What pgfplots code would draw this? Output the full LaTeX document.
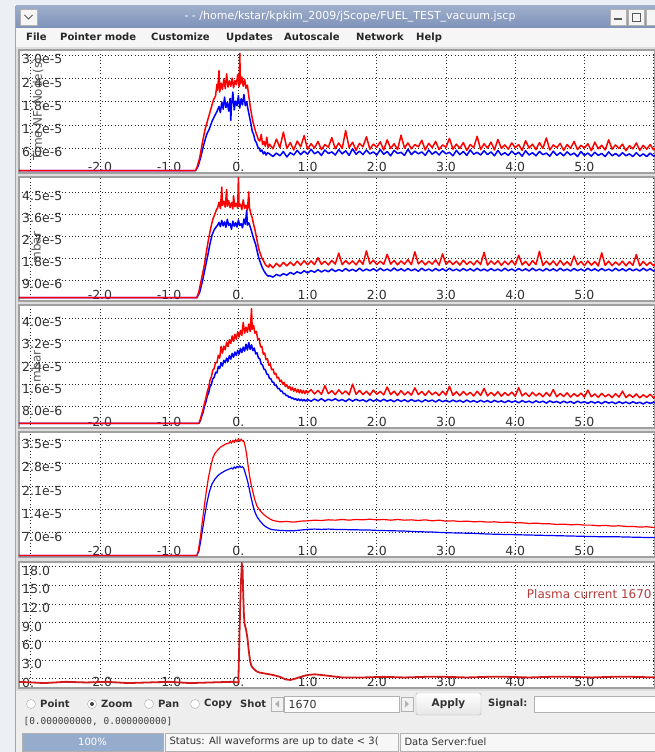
\documentclass[border=0pt]{standalone}
\usepackage{fontspec}
\setmainfont{DejaVu Sans}
\newfontfamily\monof{DejaVu Sans Mono}
\usepackage{pgfplots}
\usepackage{pgfplotstable}
\pgfplotsset{compat=1.18}

\definecolor{pagebg}{RGB}{236,239,243}
\definecolor{winbody}{RGB}{238,238,238}
\definecolor{titletop}{RGB}{158,174,204}
\definecolor{titlebot}{RGB}{126,146,184}
\definecolor{menubg}{RGB}{246,246,246}
\definecolor{panelgap}{RGB}{222,222,222}
\definecolor{panelframe}{RGB}{160,160,160}
\definecolor{sigred}{RGB}{255,0,0}
\definecolor{sigblue}{RGB}{0,0,255}
\definecolor{ipred}{RGB}{210,25,25}
\definecolor{labred}{RGB}{180,60,60}
\definecolor{ticktext}{RGB}{50,50,50}
\definecolor{progress}{RGB}{150,172,204}

% ---------- panel 1 ----------
\pgfplotstableread{
x y
-3.17 0.3
-0.62 0.3
-0.58 1.5
-0.54 4.0
-0.50 7.0
-0.46 9.5
-0.42 11.0
-0.38 13.0
-0.34 14.5
-0.31 15.5
-0.28 16.8
-0.26 15.2
-0.24 18.0
-0.22 16.1
-0.20 19.2
-0.18 16.5
-0.16 17.8
-0.14 15.6
-0.12 18.9
-0.11 13.2
-0.10 16.9
-0.08 20.5
-0.06 15.9
-0.04 18.2
-0.02 17.0
0.00 19.6
0.02 16.4
0.04 18.8
0.06 17.2
0.08 19.9
0.10 17.0
0.12 18.0
0.14 16.0
0.16 14.2
0.18 12.5
0.20 10.4
0.22 9.6
0.24 8.1
0.26 7.5
0.28 6.4
0.30 6.0
0.32 5.2
0.34 5.6
0.36 4.6
0.38 5.1
0.40 4.3
0.42 4.9
0.45 4.6
0.50 3.9
0.55 4.8
0.60 4.1
0.65 5.2
0.70 3.8
0.75 4.9
0.80 4.3
0.85 5.5
0.90 4.4
0.95 5.3
1.00 4.5
1.05 5.8
1.10 4.6
1.15 5.2
1.20 4.2
1.25 5.6
1.30 4.7
1.35 5.1
1.40 4.3
1.45 5.7
1.50 4.6
1.55 5.4
1.60 4.2
1.65 5.9
1.70 4.5
1.75 5.3
1.80 4.4
1.85 5.6
1.90 4.6
1.95 5.1
2.00 4.3
2.05 5.7
2.10 4.5
2.15 5.2
2.20 4.1
2.25 5.5
2.30 4.7
2.35 5.0
2.40 4.2
2.45 5.8
2.50 4.4
2.55 5.3
2.60 4.6
2.65 5.1
2.70 4.2
2.75 5.6
2.80 4.5
2.85 5.2
2.90 4.3
2.95 5.4
3.00 4.6
3.05 5.0
3.10 4.1
3.15 5.5
3.20 4.4
3.25 5.2
3.30 4.2
3.35 5.6
3.40 4.5
3.45 5.0
3.50 4.3
3.55 5.4
3.60 4.4
3.65 5.1
3.70 4.1
3.75 5.5
3.80 4.3
3.85 4.9
3.90 4.2
3.95 5.3
4.00 4.4
4.05 5.0
4.10 4.0
4.15 5.4
4.20 4.3
4.25 4.9
4.30 4.1
4.35 5.2
4.40 4.4
4.45 4.8
4.50 4.0
4.55 5.3
4.60 4.2
4.65 4.9
4.70 4.1
4.75 5.1
4.80 4.3
4.85 4.8
4.90 3.9
4.95 5.2
5.00 4.2
5.05 4.8
5.10 4.0
5.15 5.0
5.20 4.2
5.25 4.7
5.30 3.9
5.35 5.1
5.40 4.1
5.45 4.7
5.50 4.0
5.55 4.9
5.60 4.1
5.65 4.6
5.70 3.9
5.75 4.9
5.80 4.0
5.85 4.6
5.90 3.9
5.95 4.8
6.00 4.0
6.05 4.5
}\pOneBlue

\pgfplotstableread{
x y
-3.17 0.3
-0.62 0.3
-0.60 1.0
-0.56 3.5
-0.52 7.5
-0.48 11.0
-0.44 13.5
-0.40 16.0
-0.36 18.5
-0.33 19.5
-0.31 22.5
-0.30 21.0
-0.28 26.0
-0.27 20.5
-0.25 22.8
-0.23 21.2
-0.21 23.9
-0.19 21.4
-0.17 25.2
-0.15 21.8
-0.13 23.4
-0.11 22.0
-0.09 24.1
-0.07 21.6
-0.05 23.5
-0.03 22.4
-0.01 25.0
0.01 21.9
0.02 30.5
0.03 22.6
0.05 24.4
0.07 22.0
0.09 23.8
0.11 21.5
0.13 22.3
0.15 19.5
0.17 17.0
0.19 14.8
0.21 12.9
0.23 11.6
0.25 10.2
0.27 9.3
0.29 8.2
0.31 7.9
0.33 9.6
0.35 7.0
0.37 7.8
0.39 6.5
0.41 8.9
0.43 6.2
0.45 7.1
0.50 5.9
0.55 8.4
0.60 6.2
0.65 10.2
0.70 6.0
0.75 7.5
0.80 5.6
0.85 7.9
0.90 6.4
0.95 9.3
1.00 5.8
1.05 7.2
1.10 6.1
1.15 7.8
1.20 5.7
1.25 7.0
1.30 6.3
1.35 8.8
1.40 5.9
1.45 7.4
1.50 6.0
1.55 10.6
1.60 6.2
1.65 7.6
1.70 5.5
1.75 7.3
1.80 6.4
1.85 9.0
1.90 5.8
1.95 7.1
2.00 6.3
2.05 7.7
2.10 5.6
2.15 8.2
2.20 6.0
2.25 7.2
2.30 5.7
2.35 9.4
2.40 6.1
2.45 7.4
2.50 5.9
2.55 7.0
2.60 6.4
2.65 8.1
2.70 5.6
2.75 7.3
2.80 6.2
2.85 7.8
2.90 5.7
2.95 6.9
3.00 6.3
3.05 8.6
3.10 5.8
3.15 7.1
3.20 6.0
3.25 7.5
3.30 5.5
3.35 7.0
3.40 6.2
3.45 9.1
3.50 5.7
3.55 7.2
3.60 6.1
3.65 7.6
3.70 5.6
3.75 8.3
3.80 6.0
3.85 6.9
3.90 5.8
3.95 7.4
4.00 6.2
4.05 7.0
4.10 5.5
4.15 8.0
4.20 6.1
4.25 7.1
4.30 5.7
4.35 7.5
4.40 6.0
4.45 8.7
4.50 5.6
4.55 6.9
4.60 6.2
4.65 7.3
4.70 5.5
4.75 7.0
4.80 6.0
4.85 7.8
4.90 5.7
4.95 6.8
5.00 6.1
5.05 7.2
5.10 5.4
5.15 7.6
5.20 5.9
5.25 6.8
5.30 5.6
5.35 8.2
5.40 5.8
5.45 6.9
5.50 6.0
5.55 7.1
5.60 5.4
5.65 6.7
5.70 5.9
5.75 7.4
5.80 5.5
5.85 6.8
5.90 5.8
5.95 7.0
6.00 5.6
6.05 6.5
}\pOneRed

% ---------- panel 2 ----------
\pgfplotstableread{
x y
-3.17 1.9
-0.60 1.9
-0.56 4.0
-0.52 8.5
-0.48 14.0
-0.44 19.5
-0.41 23.9
-0.38 27.5
-0.35 29.6
-0.32 30.8
-0.30 31.5
-0.28 32.6
-0.26 30.9
-0.24 33.4
-0.22 31.2
-0.20 32.8
-0.18 30.6
-0.16 33.9
-0.14 31.4
-0.12 32.2
-0.10 29.8
-0.08 33.1
-0.06 31.0
-0.04 32.5
-0.02 30.7
0.00 33.6
0.02 31.3
0.04 32.1
0.06 30.4
0.08 34.0
0.10 31.8
0.12 37.5
0.13 31.5
0.15 32.4
0.17 30.9
0.19 29.0
0.21 27.0
0.23 25.2
0.25 23.6
0.27 21.0
0.29 18.6
0.31 16.9
0.33 15.3
0.35 13.9
0.37 12.8
0.39 11.9
0.41 11.2
0.43 10.7
0.45 10.9
0.50 10.3
0.55 11.4
0.60 10.8
0.65 11.7
0.70 11.1
0.75 12.2
0.80 11.5
0.85 12.5
0.90 11.8
0.95 12.9
1.00 12.0
1.05 13.0
1.10 12.3
1.15 13.3
1.20 12.4
1.25 13.2
1.30 12.5
1.35 13.6
1.40 12.6
1.45 13.4
1.50 12.7
1.55 13.8
1.60 12.8
1.65 13.5
1.70 12.7
1.75 13.9
1.80 12.8
1.85 13.6
1.90 12.9
1.95 13.7
2.00 12.8
2.05 13.9
2.10 12.9
2.15 13.6
2.20 12.8
2.25 14.0
2.30 12.9
2.35 13.7
2.40 12.8
2.45 13.8
2.50 12.9
2.55 13.6
2.60 12.7
2.65 13.9
2.70 12.9
2.75 13.6
2.80 12.8
2.85 13.8
2.90 12.9
2.95 13.7
3.00 12.8
3.05 13.9
3.10 12.9
3.15 13.6
3.20 12.8
3.25 13.8
3.30 12.9
3.35 13.7
3.40 12.8
3.45 13.9
3.50 12.9
3.55 13.6
3.60 12.8
3.65 13.8
3.70 12.9
3.75 13.6
3.80 12.8
3.85 13.9
3.90 12.9
3.95 13.6
4.00 12.8
4.05 13.8
4.10 12.9
4.15 13.7
4.20 12.8
4.25 13.9
4.30 12.9
4.35 13.6
4.40 12.8
4.45 13.8
4.50 12.9
4.55 13.7
4.60 12.8
4.65 13.9
4.70 12.9
4.75 13.6
4.80 12.8
4.85 13.8
4.90 12.9
4.95 13.6
5.00 12.8
5.05 13.9
5.10 12.9
5.15 13.7
5.20 12.8
5.25 13.8
5.30 12.9
5.35 13.6
5.40 12.8
5.45 13.9
5.50 12.9
5.55 13.7
5.60 12.8
5.65 13.8
5.70 12.9
5.75 13.6
5.80 12.8
5.85 13.9
5.90 12.9
5.95 13.7
6.00 12.8
6.05 13.5
}\pTwoBlue

\pgfplotstableread{
x y
-3.17 1.9
-0.60 1.9
-0.57 4.5
-0.53 10.0
-0.49 15.5
-0.46 21.0
-0.43 26.0
-0.40 30.2
-0.37 33.8
-0.34 36.0
-0.32 37.5
-0.30 38.6
-0.28 40.8
-0.26 38.2
-0.24 47.0
-0.23 39.5
-0.21 41.2
-0.19 38.8
-0.17 46.0
-0.16 39.2
-0.14 41.5
-0.12 38.6
-0.10 40.7
-0.08 38.1
-0.07 43.5
-0.05 39.0
-0.03 40.4
-0.01 38.4
0.00 51.0
0.01 39.1
0.03 40.0
0.05 37.8
0.07 41.8
0.09 38.3
0.11 39.6
0.13 37.5
0.15 45.0
0.16 38.6
0.18 36.2
0.20 34.5
0.22 31.8
0.24 29.5
0.26 26.7
0.28 23.8
0.30 21.2
0.32 19.6
0.34 18.0
0.36 17.2
0.38 15.9
0.40 15.1
0.42 14.6
0.44 14.4
0.45 15.6
0.50 14.1
0.55 15.9
0.60 14.6
0.65 16.3
0.70 14.9
0.75 16.4
0.80 15.0
0.85 16.8
0.90 15.2
0.95 17.0
1.00 15.3
1.05 16.9
1.10 15.4
1.15 18.2
1.20 15.5
1.25 16.8
1.30 15.3
1.35 17.1
1.40 15.6
1.45 20.1
1.50 15.4
1.55 17.0
1.60 15.6
1.65 16.9
1.70 15.3
1.75 17.3
1.80 15.5
1.85 21.0
1.90 15.7
1.95 17.2
2.00 15.4
2.05 16.8
2.10 15.5
2.15 19.6
2.20 15.6
2.25 17.1
2.30 15.3
2.35 16.9
2.40 15.6
2.45 17.4
2.50 15.4
2.55 20.6
2.60 15.7
2.65 17.0
2.70 15.3
2.75 16.8
2.80 15.6
2.85 17.3
2.90 15.2
2.95 19.8
3.00 15.5
3.05 17.0
3.10 15.4
3.15 16.8
3.20 15.2
3.25 17.2
3.30 15.5
3.35 16.7
3.40 15.3
3.45 17.1
3.50 15.4
3.55 20.4
3.60 15.2
3.65 16.9
3.70 15.5
3.75 17.0
3.80 15.1
3.85 16.8
3.90 15.4
3.95 17.1
4.00 15.2
4.05 19.2
4.10 15.3
4.15 16.7
4.20 15.0
4.25 17.0
4.30 15.4
4.35 20.8
4.40 15.1
4.45 16.8
4.50 15.3
4.55 16.9
4.60 15.0
4.65 17.1
4.70 15.2
4.75 16.6
4.80 15.0
4.85 18.9
4.90 15.3
4.95 16.7
5.00 15.0
5.05 16.9
5.10 15.2
5.15 16.6
5.20 14.9
5.25 20.2
5.30 15.1
5.35 16.8
5.40 15.0
5.45 16.5
5.50 15.2
5.55 16.8
5.60 14.9
5.65 16.6
5.70 15.1
5.75 19.5
5.80 14.9
5.85 16.7
5.90 15.1
5.95 16.4
6.00 14.9
6.05 16.2
}\pTwoRed

% ---------- panel 3 ----------
\pgfplotstableread{
x y
-3.17 2.0
-0.57 2.0
-0.55 3.0
-0.53 4.6
-0.51 6.0
-0.49 8.2
-0.47 9.6
-0.45 11.8
-0.43 13.0
-0.41 15.2
-0.39 16.0
-0.37 18.1
-0.35 18.6
-0.33 20.4
-0.31 20.2
-0.29 22.6
-0.27 21.8
-0.25 23.9
-0.23 22.7
-0.21 24.8
-0.19 23.9
-0.17 25.6
-0.15 24.4
-0.13 26.5
-0.11 25.2
-0.09 27.3
-0.07 25.9
-0.05 27.8
-0.03 26.5
-0.01 28.4
0.01 27.0
0.03 29.1
0.05 27.6
0.07 29.6
0.09 28.1
0.11 30.6
0.13 28.5
0.15 31.2
0.17 28.7
0.19 30.4
0.21 28.3
0.23 29.2
0.25 27.1
0.27 27.5
0.29 25.6
0.31 25.3
0.33 23.4
0.35 23.1
0.37 21.6
0.39 21.3
0.41 19.8
0.43 19.7
0.45 18.2
0.47 18.1
0.49 16.9
0.51 16.8
0.53 15.7
0.55 15.6
0.57 14.5
0.59 14.6
0.61 13.6
0.63 13.7
0.65 12.7
0.67 12.8
0.69 12.0
0.71 12.1
0.73 11.4
0.75 11.6
0.77 10.9
0.79 11.2
0.81 10.6
0.83 10.9
0.85 10.3
0.87 10.8
0.89 10.2
0.91 10.7
0.93 10.1
0.95 10.6
0.97 10.0
1.00 10.6
1.05 10.0
1.10 10.8
1.15 10.1
1.20 10.9
1.25 10.0
1.30 10.7
1.35 10.2
1.40 10.9
1.45 10.1
1.50 10.6
1.55 9.9
1.60 10.8
1.65 10.0
1.70 10.7
1.75 10.1
1.80 10.5
1.85 9.8
1.90 10.7
1.95 10.0
2.00 10.6
2.05 9.9
2.10 10.7
2.15 10.0
2.20 10.5
2.25 9.8
2.30 10.6
2.35 9.9
2.40 10.5
2.45 9.8
2.50 10.6
2.55 9.9
2.60 10.4
2.65 9.7
2.70 10.5
2.75 9.9
2.80 10.4
2.85 9.7
2.90 10.5
2.95 9.8
3.00 10.3
3.05 9.7
3.10 10.4
3.15 9.8
3.20 10.3
3.25 9.6
3.30 10.4
3.35 9.7
3.40 10.2
3.45 9.6
3.50 10.3
3.55 9.7
3.60 10.2
3.65 9.5
3.70 10.3
3.75 9.7
3.80 10.1
3.85 9.5
3.90 10.2
3.95 9.6
4.00 10.1
4.05 9.4
4.10 10.2
4.15 9.6
4.20 10.0
4.25 9.4
4.30 10.1
4.35 9.5
4.40 10.0
4.45 9.3
4.50 10.1
4.55 9.5
4.60 9.9
4.65 9.3
4.70 10.0
4.75 9.4
4.80 9.9
4.85 9.2
4.90 10.0
4.95 9.4
5.00 9.8
5.05 9.2
5.10 9.9
5.15 9.3
5.20 9.8
5.25 9.1
5.30 9.9
5.35 9.3
5.40 9.7
5.45 9.1
5.50 9.8
5.55 9.2
5.60 9.7
5.65 9.1
5.70 9.8
5.75 9.2
5.80 9.6
5.85 9.0
5.90 9.7
5.95 9.2
6.00 9.6
6.05 9.1
}\pThreeBlue

\pgfplotstableread{
x y
-3.17 2.0
-0.57 2.0
-0.55 3.4
-0.53 5.2
-0.51 7.0
-0.49 9.2
-0.47 11.0
-0.45 13.4
-0.43 15.0
-0.41 17.6
-0.39 18.8
-0.37 21.2
-0.35 21.8
-0.33 24.0
-0.31 23.9
-0.29 26.6
-0.27 25.6
-0.25 29.8
-0.23 27.4
-0.21 29.9
-0.19 28.6
-0.17 31.4
-0.15 29.8
-0.13 32.2
-0.11 30.9
-0.09 33.6
-0.07 31.6
-0.05 34.2
-0.03 32.4
-0.01 35.1
0.01 33.2
0.03 35.6
0.05 33.8
0.07 38.5
0.09 34.6
0.11 36.8
0.13 34.9
0.15 37.9
0.17 35.2
0.19 43.5
0.20 36.0
0.22 37.4
0.24 34.6
0.26 35.2
0.28 32.4
0.30 32.6
0.32 29.6
0.34 29.8
0.36 27.0
0.38 27.4
0.40 25.0
0.42 25.3
0.44 23.0
0.46 23.5
0.48 21.4
0.50 21.6
0.52 19.8
0.54 20.1
0.56 18.4
0.58 18.6
0.60 17.1
0.62 17.6
0.64 16.2
0.66 16.8
0.68 15.3
0.70 16.0
0.72 14.6
0.74 15.4
0.76 14.0
0.78 15.0
0.80 13.6
0.82 14.6
0.84 13.3
0.86 14.3
0.88 13.0
0.90 14.1
0.92 12.9
0.94 13.9
0.96 12.7
0.98 13.8
1.00 13.0
1.05 14.2
1.10 12.6
1.15 13.9
1.20 12.5
1.25 15.6
1.30 12.7
1.35 13.8
1.40 12.4
1.45 14.1
1.50 12.6
1.55 13.7
1.60 12.3
1.65 16.2
1.70 12.5
1.75 13.9
1.80 12.4
1.85 13.6
1.90 12.2
1.95 14.0
2.00 12.5
2.05 13.5
2.10 12.3
2.15 15.1
2.20 12.4
2.25 13.6
2.30 12.1
2.35 13.8
2.40 12.3
2.45 13.4
2.50 12.2
2.55 14.8
2.60 12.4
2.65 13.5
2.70 12.1
2.75 13.7
2.80 12.3
2.85 13.3
2.90 12.0
2.95 13.6
3.00 12.2
3.05 15.4
3.10 12.1
3.15 13.4
3.20 12.0
3.25 13.5
3.30 12.2
3.35 13.2
3.40 11.9
3.45 13.6
3.50 12.1
3.55 14.6
3.60 11.9
3.65 13.2
3.70 12.0
3.75 13.4
3.80 11.8
3.85 13.1
3.90 12.0
3.95 13.3
4.00 11.8
4.05 14.9
4.10 11.9
4.15 13.0
4.20 11.7
4.25 13.2
4.30 11.9
4.35 12.9
4.40 11.6
4.45 13.1
4.50 11.8
4.55 14.2
4.60 11.6
4.65 12.8
4.70 11.7
4.75 13.0
4.80 11.5
4.85 12.7
4.90 11.7
4.95 12.9
5.00 11.5
5.05 14.0
5.10 11.6
5.15 12.6
5.20 11.4
5.25 12.8
5.30 11.6
5.35 12.5
5.40 11.3
5.45 12.7
5.50 11.5
5.55 13.6
5.60 11.3
5.65 12.4
5.70 11.4
5.75 12.6
5.80 11.2
5.85 12.3
5.90 11.4
5.95 12.5
6.00 11.2
6.05 12.2
}\pThreeRed

% ---------- panel 4 ----------
\pgfplotstableread{
x y
-3.17 0.1
-0.60 0.1
-0.57 1.5
-0.54 5.0
-0.51 9.0
-0.48 13.0
-0.45 16.5
-0.42 19.3
-0.38 21.8
-0.34 23.2
-0.30 24.2
-0.26 24.9
-0.22 25.4
-0.18 25.9
-0.14 26.2
-0.10 26.6
-0.08 26.3
-0.06 26.9
-0.04 26.5
-0.02 27.1
0.00 26.7
0.02 27.2
0.04 26.8
0.06 27.0
0.08 26.4
0.10 25.0
0.12 23.6
0.14 22.0
0.16 20.0
0.18 18.0
0.21 15.3
0.24 13.2
0.27 11.8
0.31 10.6
0.36 9.4
0.41 8.6
0.46 8.1
0.50 7.9
0.60 7.7
0.70 7.6
0.80 7.6
0.90 7.8
1.00 8.0
1.10 8.1
1.20 8.0
1.30 8.1
1.40 8.0
1.50 8.0
1.60 7.9
1.70 7.9
1.80 7.8
1.90 7.8
2.00 7.7
2.20 7.6
2.40 7.5
2.60 7.3
2.80 7.2
3.00 7.0
3.20 6.9
3.40 6.8
3.60 6.6
3.80 6.5
4.00 6.4
4.20 6.3
4.40 6.2
4.60 6.1
4.80 6.0
5.00 5.9
5.20 5.8
5.40 5.8
5.60 5.7
5.80 5.6
6.05 5.5
}\pFourBlue

\pgfplotstableread{
x y
-3.17 0.1
-0.60 0.1
-0.58 1.5
-0.55 5.5
-0.52 10.5
-0.49 15.5
-0.46 20.0
-0.43 24.0
-0.40 27.0
-0.37 29.6
-0.34 31.0
-0.30 32.0
-0.26 32.9
-0.22 33.4
-0.18 33.9
-0.14 34.1
-0.12 34.6
-0.10 34.2
-0.08 34.9
-0.06 34.4
-0.04 35.2
-0.02 34.6
0.00 35.4
0.02 34.7
0.04 35.3
0.06 34.8
0.08 34.6
0.10 33.0
0.12 30.6
0.14 27.4
0.16 24.5
0.18 22.0
0.21 19.3
0.24 16.8
0.27 15.0
0.31 13.8
0.36 12.6
0.41 11.8
0.46 11.1
0.50 10.7
0.60 10.3
0.70 10.4
0.80 10.2
0.90 10.5
1.00 10.6
1.10 10.8
1.20 10.7
1.30 10.9
1.40 10.8
1.50 11.0
1.60 10.8
1.70 11.0
1.80 10.9
1.90 11.1
2.00 10.9
2.10 11.0
2.20 10.8
2.30 11.0
2.40 10.8
2.50 10.9
2.60 10.7
2.70 10.9
2.80 10.6
2.90 10.8
3.00 10.5
3.10 10.6
3.20 10.4
3.30 10.5
3.40 10.3
3.50 10.4
3.60 10.2
3.70 10.3
3.80 10.1
3.90 10.2
4.00 10.0
4.10 10.0
4.20 9.8
4.30 9.9
4.40 9.7
4.50 9.7
4.60 9.5
4.70 9.6
4.80 9.4
4.90 9.5
5.00 9.3
5.10 9.3
5.20 9.1
5.30 9.2
5.40 9.0
5.50 9.1
5.60 8.9
5.70 8.9
5.80 8.7
5.90 8.8
6.00 8.6
6.05 8.7
}\pFourRed

% ---------- panel 5 ----------
\pgfplotstableread{
x y
-3.17 -0.5
-2.80 -0.7
-2.50 -0.5
-2.20 -0.6
-1.90 -0.5
-1.60 -0.7
-1.30 -0.6
-1.00 -0.5
-0.70 -0.7
-0.40 -0.6
-0.10 -0.5
0.00 -0.6
0.005 2.0
0.02 9.0
0.035 15.0
0.05 18.4
0.06 17.9
0.07 13.5
0.08 10.2
0.09 8.8
0.11 7.9
0.13 6.6
0.15 4.5
0.17 2.8
0.19 2.0
0.22 1.6
0.26 1.2
0.30 1.0
0.40 0.8
0.50 0.6
0.60 0.3
0.68 -0.1
0.75 -0.2
0.82 0.0
0.90 0.3
1.00 0.6
1.10 0.7
1.20 0.6
1.35 0.4
1.50 0.2
1.80 0.2
2.10 0.3
2.40 0.2
2.70 0.3
3.00 0.3
3.30 0.2
3.60 0.3
3.90 0.3
4.20 0.2
4.50 0.3
4.80 0.3
5.10 0.2
5.40 0.3
5.70 0.3
6.05 0.2
}\pFiveIp

\pgfplotsset{
  jpanel/.style={
    anchor=north west, scale only axis,
    width=636pt,
    xmin=-3.17, xmax=6.02,
    axis background/.style={fill=white},
    axis line style={draw=panelframe, line width=1.4pt},
    xtick={-3,...,6},
    xticklabels={,-2.0,-1.0,0.,1.0,2.0,3.0,4.0,5.0,},
    major tick length=0pt,
    grid=major,
    grid style={black!85, line width=0.7pt, dash pattern=on 0.7pt off 2.6pt},
    tick label style={font=\fontsize{12.5}{13}\selectfont, text=ticktext},
    xticklabel style={anchor=south, inner sep=1pt},
    yticklabel style={anchor=west, inner sep=1pt, xshift=2pt, yshift=-4pt},
  },
  noisy/.style={line width=1.5pt, line join=round},
}

\begin{document}
\begin{tikzpicture}
% window chrome
\fill[pagebg] (0pt,0pt) rectangle (655pt,-752pt);
\fill[winbody] (15pt,-6pt) rectangle (660pt,-752pt);
\draw[gray!70, line width=1pt] (15.5pt,-6pt) -- (15.5pt,-752pt);
\shade[top color=titletop, bottom color=titlebot] (16pt,-6pt) rectangle (660pt,-28pt);
\node[text=white, font=\fontsize{11}{12}\selectfont] at (350pt,-17pt)
  {- - /home/kstar/kpkim\_2009/jScope/FUEL\_TEST\_vacuum.jscp};
\filldraw[fill=gray!8, draw=gray!60] (20pt,-9pt) rectangle (37pt,-25pt);
\draw[gray!70!black, line width=1pt] (24.5pt,-15pt) -- (28.5pt,-19pt) -- (32.5pt,-15pt);
\foreach \bx in {610,628,646}{
  \filldraw[fill=gray!8, draw=gray!60] (\bx pt,-9pt) rectangle ++(16pt,-16pt);
}
\draw[gray!70!black, line width=1.2pt] (614pt,-19pt) -- (622pt,-19pt);
\draw[gray!70!black, line width=0.9pt] (632pt,-13pt) rectangle (640pt,-21pt);
\fill[menubg] (16pt,-28pt) rectangle (660pt,-47pt);
\begin{scope}[every node/.style={font=\bfseries\fontsize{10}{11}\selectfont, anchor=base west, text=black!85, inner sep=0pt}]
\node at (26pt,-41pt) {File};
\node at (60pt,-41pt) {Pointer mode};
\node at (151pt,-41pt) {Customize};
\node at (226pt,-41pt) {Updates};
\node at (284pt,-41pt) {Autoscale};
\node at (356pt,-41pt) {Network};
\node at (416pt,-41pt) {Help};
\end{scope}
\fill[panelgap] (16pt,-47pt) rectangle (660pt,-691pt);

% ---------- panel 1 ----------
\begin{axis}[jpanel, at={(19pt,-50pt)}, height=123pt,
  ymin=-0.33, ymax=31.34,
  ytick={6,12,18,24,30},
  yticklabels={6.0e-6,1.2e-5,1.8e-5,2.4e-5,3.0e-5}]
\addplot[sigblue, noisy] table[x=x,y=y] {\pOneBlue};
\addplot[sigred, noisy] table[x=x,y=y] {\pOneRed};
\node[rotate=90, text=black!65, font=\fontsize{12}{12}\selectfont] at (rel axis cs:0.031,0.52) {Time NF\_Node(s)};
\end{axis}

% ---------- panel 2 ----------
\begin{axis}[jpanel, at={(19pt,-177pt)}, height=124pt,
  ymin=0.57, ymax=51.1,
  ytick={9,18,27,36,45},
  yticklabels={9.0e-6,1.8e-5,2.7e-5,3.6e-5,4.5e-5}]
\addplot[sigblue, noisy] table[x=x,y=y] {\pTwoBlue};
\addplot[sigred, noisy] table[x=x,y=y] {\pTwoRed};
\node[rotate=90, text=black!65, font=\fontsize{12}{12}\selectfont] at (rel axis cs:0.027,0.43) {mbar};
\end{axis}

% ---------- panel 3 ----------
\begin{axis}[jpanel, at={(19pt,-305pt)}, height=123pt,
  ymin=0.29, ymax=44.8,
  ytick={8,16,24,32,40},
  yticklabels={8.0e-6,1.6e-5,2.4e-5,3.2e-5,4.0e-5}]
\addplot[sigblue, noisy] table[x=x,y=y] {\pThreeBlue};
\addplot[sigred, noisy] table[x=x,y=y] {\pThreeRed};
\node[rotate=90, text=black!65, font=\fontsize{12}{12}\selectfont] at (rel axis cs:0.027,0.50) {mbar};
\end{axis}

% ---------- panel 4 ----------
\begin{axis}[jpanel, at={(19pt,-432pt)}, height=125pt,
  ymin=-0.36, ymax=37.5,
  ytick={7,14,21,28,35},
  yticklabels={7.0e-6,1.4e-5,2.1e-5,2.8e-5,3.5e-5}]
\addplot[sigblue, line width=1.2pt] table[x=x,y=y] {\pFourBlue};
\addplot[sigred, line width=1.2pt] table[x=x,y=y] {\pFourRed};
\end{axis}

% ---------- panel 5 ----------
\begin{axis}[jpanel, at={(19pt,-562pt)}, height=126pt,
  ymin=-1.49, ymax=18.72,
  ytick={0,3,6,9,12,15,18},
  yticklabels={0.,3.0,6.0,9.0,12.0,15.0,18.0}]
\addplot[ipred, line width=1.8pt] table[x=x,y=y] {\pFiveIp};
\node[text=labred, font=\fontsize{12}{12}\selectfont] at (axis cs:5.07,13.6) {Plasma current 1670};
\end{axis}

% bottom controls
\fill[winbody] (16pt,-691pt) rectangle (660pt,-752pt);
\begin{scope}[every node/.style={font=\bfseries\fontsize{10}{11}\selectfont, anchor=west, text=black!80, inner sep=0pt}]
\foreach \rx in {31,92,149,195}{
  \filldraw[fill=white, draw=gray!70] (\rx pt,-704pt) circle (4.5pt);
}
\fill[black!75] (92pt,-704pt) circle (2pt);
\node at (40pt,-704pt) {Point};
\node at (101pt,-704pt) {Zoom};
\node at (158pt,-704pt) {Pan};
\node at (204pt,-704pt) {Copy};
\node at (240pt,-704pt) {Shot};
\node at (488pt,-704pt) {Signal:};
\end{scope}
\filldraw[fill=gray!10, draw=gray!60] (271pt,-697pt) rectangle (283pt,-711pt);
\fill[gray!60] (275pt,-704pt) -- (279pt,-700.5pt) -- (279pt,-707.5pt) -- cycle;
\filldraw[fill=white, draw=gray!60] (284pt,-696pt) rectangle (399pt,-712pt);
\node[anchor=west, font=\fontsize{11}{12}\selectfont, text=black!80] at (285pt,-704pt) {1670};
\filldraw[fill=gray!10, draw=gray!60] (401pt,-697pt) rectangle (413pt,-711pt);
\fill[gray!60] (409pt,-704pt) -- (405pt,-700.5pt) -- (405pt,-707.5pt) -- cycle;
\shade[top color=white, bottom color=gray!20, draw=gray!60, rounded corners=1.5pt] (416pt,-693pt) rectangle (481pt,-715pt);
\node[font=\bfseries\fontsize{10.5}{12}\selectfont, text=black!80] at (448.5pt,-704pt) {Apply};
\filldraw[fill=white, draw=gray!60] (534pt,-696pt) rectangle (660pt,-712pt);
\node[anchor=west, font=\monof\fontsize{9.5}{10}\selectfont, text=black!75] at (20pt,-722pt) {[0.000000000, 0.000000000]};
\fill[progress] (22pt,-733pt) rectangle (163pt,-751pt);
\draw[gray!60] (22pt,-733pt) rectangle (163pt,-751pt);
\node[text=white, font=\fontsize{10}{11}\selectfont] at (92.5pt,-742pt) {100\%};
\filldraw[fill=gray!6, draw=gray!60] (165pt,-733pt) rectangle (398pt,-751pt);
\node[anchor=west, font=\fontsize{10}{11}\selectfont, text=black!80] at (166pt,-742pt) {Status: All waveforms are up to date < 3(};
\filldraw[fill=gray!6, draw=gray!60] (400pt,-733pt) rectangle (660pt,-751pt);
\node[anchor=west, font=\fontsize{10}{11}\selectfont, text=black!80] at (401pt,-742pt) {Data Server:fuel};

\pgfresetboundingbox
\path[use as bounding box] (0pt,0pt) rectangle (655pt,-752pt);
\end{tikzpicture}
\end{document}
